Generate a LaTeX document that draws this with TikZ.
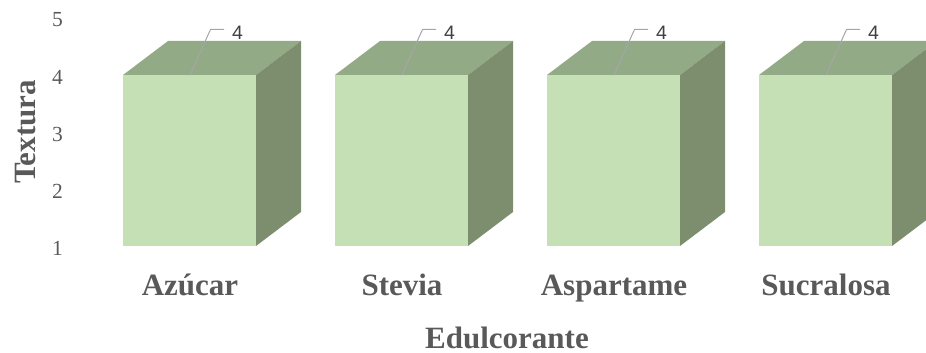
\documentclass[tikz,border=0pt]{standalone}
\usepackage{fontspec}
\setmainfont{Liberation Serif}
\newfontfamily\lsans{Liberation Sans}
\definecolor{frontc}{HTML}{C5E0B4}
\definecolor{topc}{HTML}{93AA87}
\definecolor{sidec}{HTML}{7D8E6F}
\definecolor{txtc}{HTML}{595959}
\definecolor{lblc}{HTML}{404040}
\definecolor{leadc}{HTML}{A6A6A6}
\tikzset{
  ticklbl/.style={text=txtc, inner sep=0pt, anchor=east, font=\fontsize{21.5}{25}\selectfont},
  catlbl/.style={text=txtc, inner sep=0pt, anchor=base, font=\fontsize{31}{36}\selectfont\bfseries},
  datalbl/.style={text=lblc, inner sep=0pt, font=\fontsize{19.5}{23}\selectfont\lsans},
  leader/.style={draw=leadc, line width=1pt},
}
\begin{document}
\begin{tikzpicture}[x=1pt,y=-1pt]
\useasboundingbox (0,0) rectangle (926,353);
% tick labels
\node[ticklbl] (t5) at (63,20) {5};
\node[ticklbl] (t4) at (63,77.5) {4};
\node[ticklbl] (t3) at (63,134.5) {3};
\node[ticklbl] (t2) at (63,191.5) {2};
\node[ticklbl] (t1) at (63,248.5) {1};
% bars
\begin{scope}
\clip (0,0) rectangle (926,353);
\foreach \x/\nm in {123/Azúcar,335/Stevia,547/Aspartame,759/Sucralosa}{
  \fill[frontc] (\x,75) rectangle ++(133,171);
  \fill[topc] (\x,75) -- ++(45,-34) -- ++(133,0) -- ++(-45,34) -- cycle;
  \fill[sidec] (\x+133,75) -- ++(45,-34) -- ++(0,171) -- ++(-45,34) -- cycle;
  \coordinate (a\x) at (\x+67,75);
  \coordinate (b\x) at (\x+87.5,29.5);
  \coordinate (c\x) at (\x+101,29.5);
  \draw[leader] (a\x) -- (b\x) -- (c\x);
  \node[datalbl] (d\x) at (\x+114.5,32.5) {4};
  \node[catlbl] (n\x) at (\x+67,295) {\nm};
}
\end{scope}
% axis titles
\node[catlbl] (xt) at (507,348) {Edulcorante};
\node[catlbl, rotate=90] (yt) at (35,132) {Textura};
\end{tikzpicture}
\end{document}
